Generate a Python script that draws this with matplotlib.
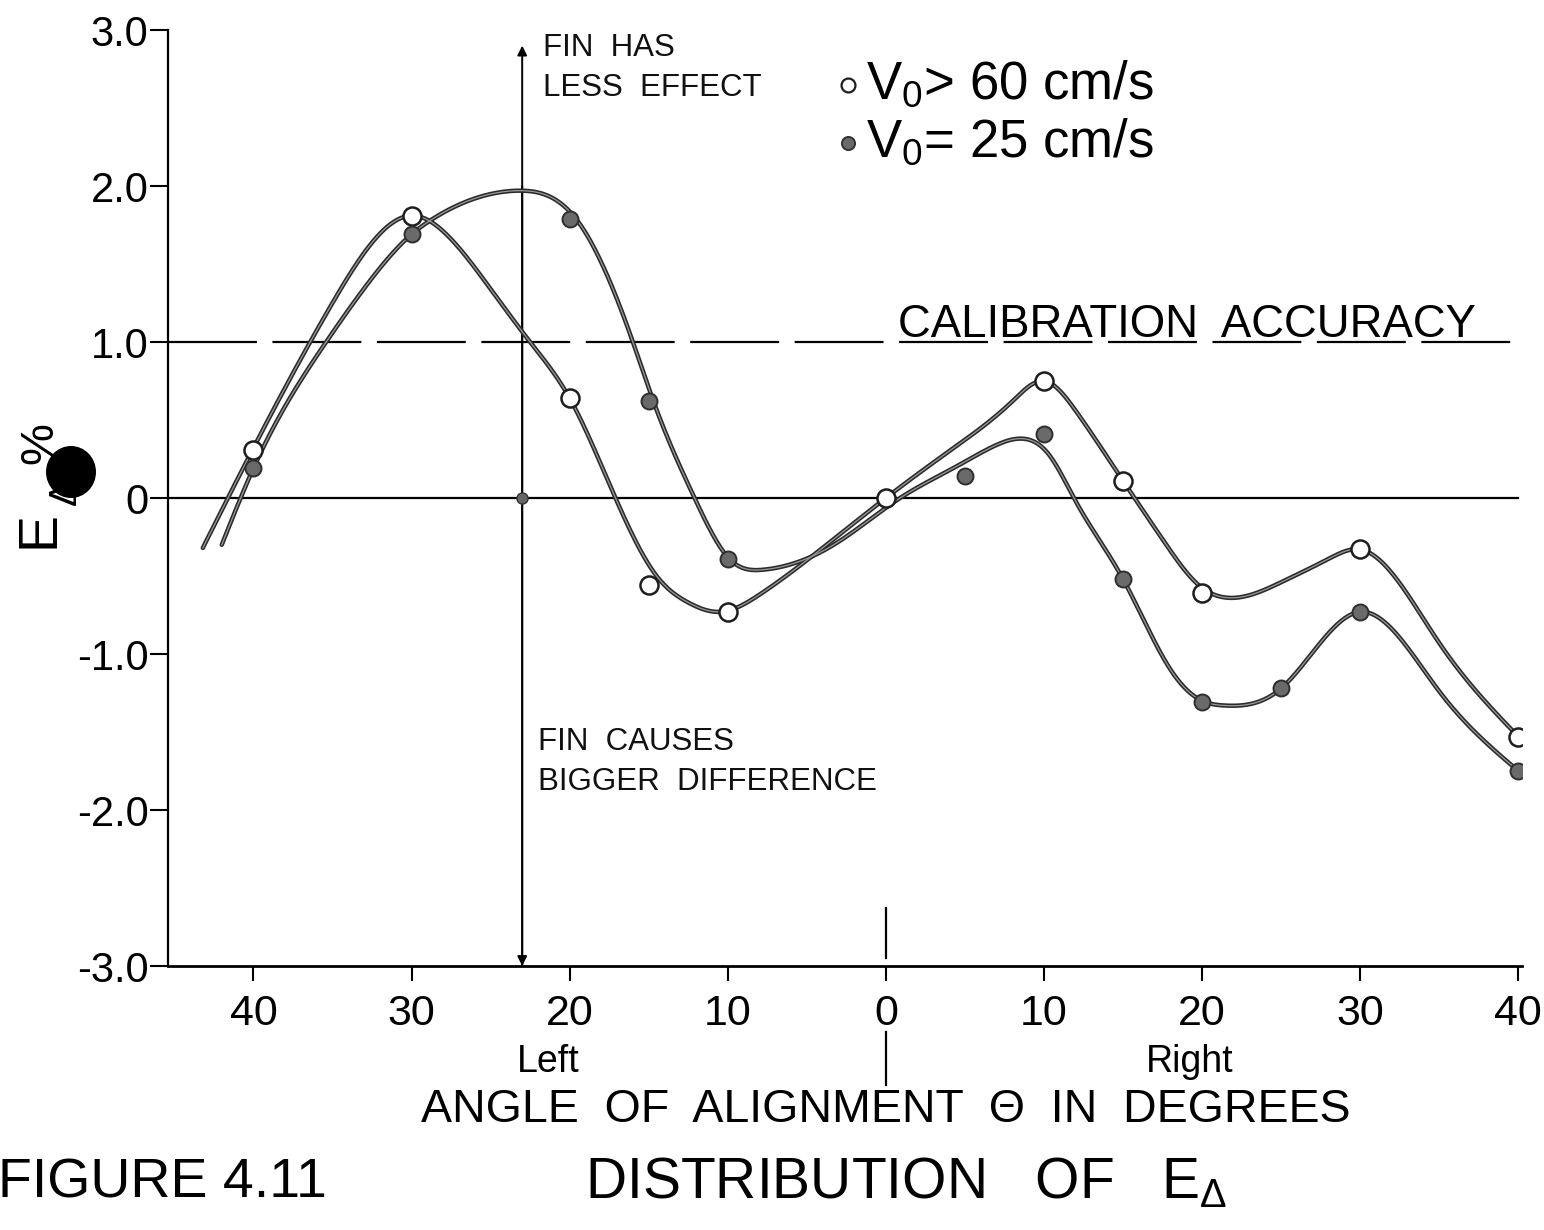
import numpy as np
import matplotlib
matplotlib.use("Agg")
import matplotlib.pyplot as plt
from matplotlib import font_manager
from matplotlib.patches import Ellipse
import matplotlib.transforms as mtransforms

# ---------------- data ----------------
open_x = [-40, -30, -20, -15, -10, 0, 10, 15, 20, 30, 40]
open_y = [0.31, 1.81, 0.64, -0.56, -0.73, 0.0, 0.75, 0.11, -0.61, -0.33, -1.53]

filled_x = [-40, -30, -20, -15, -10, 5, 10, 15, 20, 25, 30, 40]
filled_y = [0.19, 1.69, 1.79, 0.62, -0.39, 0.14, 0.41, -0.52, -1.31, -1.22, -0.73, -1.75]

# hand-drawn smooth curves: knots
open_curve_x = [-43.2, -40.0, -35.0, -30.0, -27.5, -25.0, -22.5, -20.0, -17.1,
                -14.5, -12.5, -10.5, -8.0, -4.0, 0.0, 4.0, 8.0, 10.0, 12.0, 15.0, 17.6,
                19.8, 21.7, 25.0, 28.0, 30.0, 35.0, 40.0]
open_curve_y = [-0.32, 0.32, 1.25, 1.81, 1.66, 1.34, 1.00, 0.64, 0.00,
                -0.50, -0.67, -0.73, -0.62, -0.32, 0.00, 0.30, 0.62, 0.75, 0.56, 0.11, -0.28,
                -0.56, -0.64, -0.54, -0.39, -0.33, -0.93, -1.53]

filled_curve_x = [-42.0, -40.0, -35.4, -32.8, -30.0, -28.8, -24.4, -23.0, -19.6, -16.0,
                  -14.7, -12.1, -9.9, -7.8, -3.3, 0.9, 4.6, 7.0, 8.7, 10.3, 12.0, 15.0,
                  18.0, 20.0, 21.4, 25.0, 30.0, 35.0, 40.0]
filled_curve_y = [-0.30, 0.19, 1.00, 1.37, 1.69, 1.78, 1.96, 1.97, 1.79, 1.00,
                  0.62, 0.00, -0.39, -0.46, -0.30, 0.00, 0.21, 0.34, 0.38, 0.28, -0.02, -0.52,
                  -1.10, -1.30, -1.33, -1.22, -0.73, -1.24, -1.75]

# arrow marker point on zero line
arrow_x = -23.0
arrow_pt_y = 0.0

yticks = [-3, -2, -1, 0, 1, 2, 3]
ytick_labels = ["-3.0", "-2.0", "-1.0", "0", "1.0", "2.0", "3.0"]
xticks = [-40, -30, -20, -10, 0, 10, 20, 30, 40]
xtick_labels = ["40", "30", "20", "10", "0", "10", "20", "30", "40"]

# ---------------- helpers ----------------
def natural_spline(xs, ys, n=1200):
    x = np.asarray(xs, float)
    y = np.asarray(ys, float)
    m = len(x)
    h = np.diff(x)
    A = np.zeros((m, m))
    b = np.zeros(m)
    A[0, 0] = A[-1, -1] = 1.0
    for i in range(1, m - 1):
        A[i, i - 1] = h[i - 1]
        A[i, i] = 2 * (h[i - 1] + h[i])
        A[i, i + 1] = h[i]
        b[i] = 6 * ((y[i + 1] - y[i]) / h[i] - (y[i] - y[i - 1]) / h[i - 1])
    M = np.linalg.solve(A, b)
    xx = np.linspace(x[0], x[-1], n)
    k = np.clip(np.searchsorted(x, xx) - 1, 0, m - 2)
    t1 = x[k + 1] - xx
    t0 = xx - x[k]
    hk = h[k]
    yy = (M[k] * t1 ** 3 / (6 * hk) + M[k + 1] * t0 ** 3 / (6 * hk)
          + (y[k] / hk - M[k] * hk / 6) * t1 + (y[k + 1] / hk - M[k + 1] * hk / 6) * t0)
    return xx, yy

names = {f.name for f in font_manager.fontManager.ttflist}
FONT = "Liberation Sans" if "Liberation Sans" in names else "DejaVu Sans"
plt.rcParams["font.family"] = [FONT, "DejaVu Sans"]
plt.rcParams["mathtext.fontset"] = "custom"
plt.rcParams["mathtext.rm"] = FONT

W, H = 1544, 1230
fig = plt.figure(figsize=(W / 100, H / 100), dpi=100)
fig.patch.set_facecolor("white")

def fx(px):
    return px / W

def fy(py):
    return 1 - py / H

ax_l, ax_r, ax_t, ax_b = 168, 1522, 30, 966
ax = fig.add_axes([fx(ax_l), fy(ax_b), (ax_r - ax_l) / W, (ax_b - ax_t) / H])
ax.set_xlim(-45.4, 40.23)
ax.set_ylim(-3, 3)
ax.set_facecolor("none")

for s in ("top", "right"):
    ax.spines[s].set_visible(False)
ax.spines["left"].set_linewidth(1.6)
ax.spines["bottom"].set_linewidth(2.0)

ax.set_yticks(yticks)
ax.set_yticklabels(ytick_labels)
ax.set_xticks(xticks)
ax.set_xticklabels(xtick_labels)
ax.tick_params(axis="y", direction="out", length=13, width=1.5, pad=1, labelsize=30)
ax.tick_params(axis="x", direction="out", length=11, width=1.5, pad=9, labelsize=31)

# reference lines
ax.plot([-45.4, 40], [0, 0], color="black", lw=1.6, zorder=2)
ax.plot([-45.4, 40], [1, 1], color="black", lw=1.6, dashes=(40, 7), zorder=2)

# vertical arrow
ax.annotate("", xy=(arrow_x, 2.9), xytext=(arrow_x, -3.0),
            arrowprops=dict(arrowstyle="-|>", color="black", lw=1.4,
                            mutation_scale=14, shrinkA=0, shrinkB=0), zorder=3)
ax.annotate("", xy=(arrow_x, -3.0), xytext=(arrow_x, 2.0),
            arrowprops=dict(arrowstyle="-|>", color="black", lw=1.4,
                            mutation_scale=14, shrinkA=0, shrinkB=0,
                            facecolor="white"), zorder=3)
ax.plot([arrow_x], [arrow_pt_y], "o", ms=8, mfc="#666666", mec="#333333", mew=1, zorder=5)

# zero marker segments above and below axis
trans = mtransforms.blended_transform_factory(ax.transData, ax.transAxes)
ax.plot([0, 0], [(966 - 908) / 936, (966 - 958) / 936], color="black", lw=1.6,
        transform=trans, clip_on=False)
ax.plot([0, 0], [(966 - 1032) / 936, (966 - 1085) / 936], color="black", lw=1.6,
        transform=trans, clip_on=False)

# curves
for cx, cy in ((open_curve_x, open_curve_y), (filled_curve_x, filled_curve_y)):
    sx, sy = natural_spline(cx, cy)
    ax.plot(sx, sy, color="#2b2b2b", lw=3.2, solid_capstyle="round", zorder=3, clip_on=False)
    ax.plot(sx, sy, color="#9a9a9a", lw=0.9, zorder=3.1, clip_on=False)

# markers
ax.plot(open_x, open_y, "o", ms=13, mfc="white", mec="#1e1e1e", mew=1.8, zorder=6)
ax.plot(filled_x, filled_y, "o", ms=11.5, mfc="#6a6a6a", mec="#2e2e2e", mew=1.4, zorder=6)

# annotations inside plot
tk = dict(fontsize=22.5, color="#111111", va="center", ha="left")
fig.text(fx(543), fy(48), "FIN  HAS", **tk)
fig.text(fx(543), fy(88), "LESS  EFFECT", **tk)
fig.text(fx(538), fy(742), "FIN  CAUSES", **tk)
fig.text(fx(538), fy(782), "BIGGER  DIFFERENCE", **tk)
fig.text(fx(898), fy(337), "CALIBRATION  ACCURACY", fontsize=32.8, va="baseline", ha="left")

# legend
fig.add_artist(plt.Line2D([fx(848)], [fy(85)], marker="o", ms=10, mfc="white",
                          mec="#1e1e1e", mew=1.6, transform=fig.transFigure))
fig.add_artist(plt.Line2D([fx(848)], [fy(143)], marker="o", ms=9.5, mfc="#6a6a6a",
                          mec="#2e2e2e", mew=1.3, transform=fig.transFigure))
fig.text(fx(866), fy(85), r"V$_\mathregular{0}$> 60 cm/s", fontsize=38, va="center", ha="left")
fig.text(fx(866), fy(143), r"V$_\mathregular{0}$= 25 cm/s", fontsize=38, va="center", ha="left")

# axis texts
fig.text(fx(548), fy(1062), "Left", fontsize=27, ha="center", va="center")
fig.text(fx(1190), fy(1062), "Right", fontsize=27, ha="center", va="center")
fig.text(fx(886), fy(1110), "ANGLE  OF  ALIGNMENT  \u0398  IN  DEGREES", fontsize=33.5,
         ha="center", va="center")
fig.text(fx(-2), fy(1184), "FIGURE 4.11", fontsize=40, ha="left", va="center")
fig.text(fx(585), fy(1184), r"DISTRIBUTION   OF   E$_\mathregular{\Delta}$", fontsize=41,
         ha="left", va="center")

# y label: E, subscript delta, percent sign (rotated)
fig.text(fx(40), fy(529), "E", fontsize=40, rotation=90, ha="center", va="center")
fig.text(fx(66), fy(492), "\u0394", fontsize=28, rotation=90, ha="center", va="center")
fig.text(fx(40), fy(443), "%", fontsize=34, rotation=90, ha="center", va="center")
fig.add_artist(Ellipse((fx(71), fy(472)), 50 / W, 52 / H, transform=fig.transFigure,
                       facecolor="black", edgecolor="none"))

fig.savefig("out.png", dpi=100, facecolor="white")
